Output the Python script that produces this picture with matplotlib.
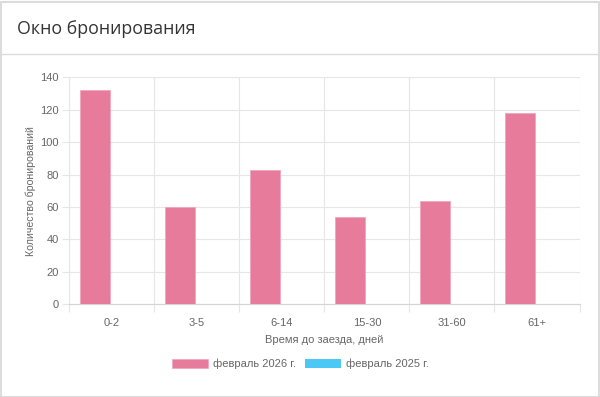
import numpy as np
import matplotlib.pyplot as plt
from matplotlib.patches import Rectangle
from matplotlib.lines import Line2D

W, H = 600, 397

TITLE = "Окно бронирования"
categories = ["0-2", "3-5", "6-14", "15-30", "31-60", "61+"]
feb_2026 = [132, 60, 83, 54, 64, 118]
feb_2025 = [0, 0, 0, 0, 0, 0]
series_names = ["февраль 2026 г.", "февраль 2025 г."]
y_ticks = [0, 20, 40, 60, 80, 100, 120, 140]

PINK = "#e67b9b"
BLUE = "#4bc8f5"
GRID = "#e6e6e6"
TEXT = "#666666"
FONT = "Liberation Sans"


def px(x, y):
    # pixel coords (top-left origin) -> figure fraction
    return x / W, 1 - y / H


fig = plt.figure(figsize=(W / 100, H / 100), dpi=100)
fig.patch.set_facecolor("white")

# card frame and header separator
fig.add_artist(Rectangle((0.5 / W, 0.5 / H), (W - 2) / W, (H - 2) / H,
                         transform=fig.transFigure, fill=False,
                         edgecolor="#dcdcdc", linewidth=1.5))
fig.add_artist(Line2D([1 / W, (W - 1) / W], [1 - 54 / H] * 2,
                      transform=fig.transFigure, color="#dcdcdc", linewidth=1))
fig.text(*px(17, 29), TITLE, fontsize=12.8, family="Open Sans",
         color="#333333", va="center", ha="left")

# plot area
left, right, top, bottom = 69.3, 579.5, 77.3, 304.3
ax = fig.add_axes([left / W, 1 - bottom / H, (right - left) / W, (bottom - top) / H])

n = len(categories)
x = np.arange(n)
group = 0.8
bw = group / 2 * 0.9
ax.bar(x - group / 4, feb_2026, width=bw, color=PINK, edgecolor="#f0a6bc",
       linewidth=0.6, label=series_names[0], zorder=3)
ax.bar(x + group / 4, feb_2025, width=bw, color=BLUE, edgecolor=BLUE,
       linewidth=0.0, label=series_names[1], zorder=3)

ax.set_xlim(-0.5, n - 0.5)
ax.set_ylim(0, 140)
ax.set_yticks(y_ticks)
ax.set_yticklabels([str(v) for v in y_ticks], family=FONT, fontsize=8, color=TEXT)
ax.set_xticks(x)
ax.set_xticklabels(categories, family=FONT, fontsize=8, color=TEXT)
ax.set_xticks(np.arange(-0.5, n), minor=True)

ax.tick_params(axis="y", length=5, width=0.8, color=GRID, pad=2.5)
ax.tick_params(axis="x", which="major", length=0, pad=10)
ax.tick_params(axis="x", which="minor", length=5.5, width=0.8, color=GRID)

ax.grid(axis="y", color=GRID, linewidth=0.8, zorder=0)
ax.grid(axis="x", which="minor", color=GRID, linewidth=0.8, zorder=0)
for side in ["top", "right"]:
    ax.spines[side].set_visible(False)
ax.spines["left"].set_color(GRID)
ax.spines["left"].set_linewidth(0.8)
ax.spines["bottom"].set_color("#d4d4d4")
ax.spines["bottom"].set_linewidth(0.8)

ax.set_ylabel("Количество бронирований", family=FONT, fontsize=7.6, color=TEXT,
              labelpad=3)
fig.text(*px(324, 340), "Время до заезда, дней", family=FONT, fontsize=8,
         color=TEXT, ha="center", va="center")

handles, labels = ax.get_legend_handles_labels()
leg = fig.legend(handles, labels, loc="center", bbox_to_anchor=px(300, 364),
                 ncol=2, frameon=False, handlelength=3.25, handleheight=0.9,
                 handletextpad=0.45, columnspacing=0.8,
                 prop={"family": FONT, "size": 8})
for t in leg.get_texts():
    t.set_color(TEXT)

fig.savefig("out.png", dpi=100, facecolor="white")
